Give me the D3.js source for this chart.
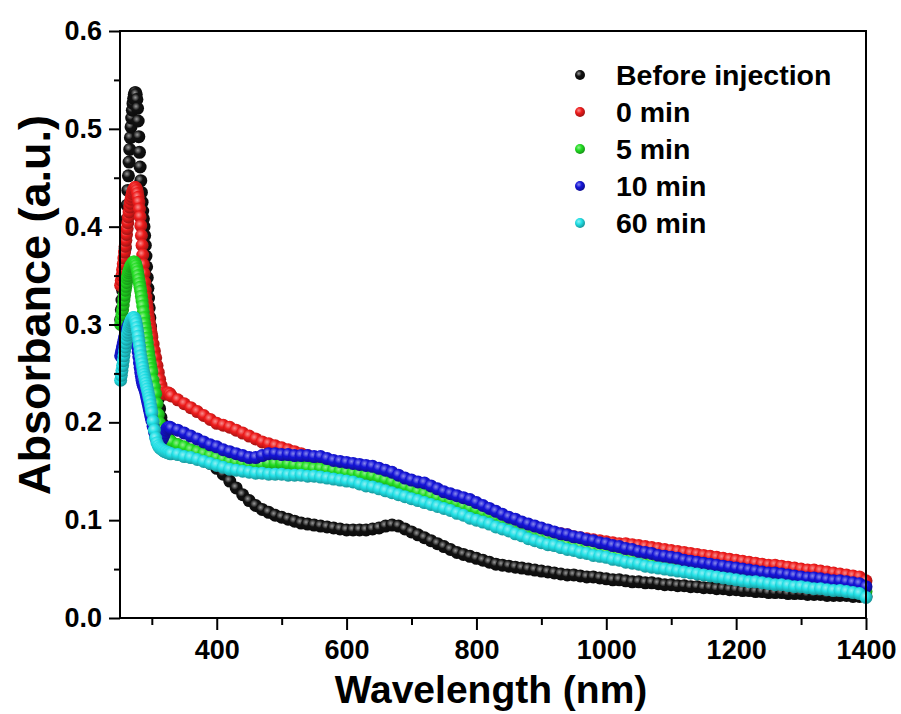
<!DOCTYPE html>
<html>
<head>
<meta charset="utf-8">
<script src="https://d3js.org/d3.v7.min.js"></script>
<style>
  body { margin: 0; background: #fff; }
  svg { font-family: "Liberation Sans", Arial, sans-serif; font-weight: bold; }
  .tick text { font-size: 27px; font-weight: bold; fill: #000; }
  .tick line { stroke: #000; stroke-width: 2px; }
  .legend text { font-size: 28.5px; }
</style>
</head>
<body>
<script>
var margin = {top: 31, right: 35, bottom: 96, left: 120},
    width = 901 - margin.left - margin.right,
    height = 714 - margin.top - margin.bottom;

// wavelength grid of the spectra (nm)
var wavelength = [
  252,253,254,255,256,257,258,259,260,261,262,263,264,265,266,267,268,269,270,271,
  272,273,274,275,276,277,278,279,280,281,282,283,284,285,286,287,288,289,290,291,
  292,293,294,295,296,297,298,299,300,
  302,304,306,308,310,312,314,316,318,320,322,324,326,328,330,
  340,350,360,370,380,390,400,410,420,430,440,450,460,470,480,490,500,510,520,530,
  540,550,560,570,580,590,600,610,620,630,640,650,660,670,680,690,700,710,720,730,
  740,750,760,770,780,790,800,810,820,830,840,850,860,870,880,890,900,910,920,930,
  940,950,960,970,980,990,1000,1010,1020,1030,1040,1050,1060,1070,1080,1090,1100,1110,1120,1130,
  1140,1150,1160,1170,1180,1190,1200,1210,1220,1230,1240,1250,1260,1270,1280,1290,1300,1310,1320,1330,
  1340,1350,1360,1370,1380,1390,1400
];

var beforeInjection = [
  0.305,0.315,0.325,0.335,0.345,0.355,0.365,0.378,0.392,0.407,
  0.422,0.437,0.452,0.466,0.479,0.491,0.502,0.511,0.519,0.526,
  0.531,0.535,0.537,0.537,0.535,0.530,0.521,0.508,0.492,0.476,
  0.461,0.447,0.435,0.425,0.416,0.408,0.400,0.391,0.381,0.370,
  0.359,0.348,0.337,0.327,0.317,0.307,0.298,0.289,0.281,
  0.267,0.254,0.243,0.233,0.224,0.214,0.205,0.199,0.194,0.190,0.187,0.185,0.183,0.181,0.180,
  0.177,0.174,0.170,0.166,0.162,0.158,0.153,0.147,0.140,0.133,
  0.126,0.120,0.115,0.111,0.108,0.105,0.103,0.101,0.099,0.097,
  0.096,0.095,0.094,0.093,0.092,0.091,0.090,0.090,0.090,0.090,
  0.091,0.092,0.094,0.095,0.094,0.091,0.088,0.085,0.082,0.079,
  0.076,0.073,0.070,0.067,0.065,0.063,0.061,0.059,0.057,0.055,
  0.054,0.053,0.052,0.051,0.050,0.049,0.048,0.047,0.046,0.045,
  0.044,0.044,0.043,0.042,0.042,0.041,0.040,0.039,0.039,0.038,
  0.037,0.037,0.036,0.036,0.035,0.034,0.034,0.033,0.033,0.032,
  0.032,0.031,0.031,0.030,0.030,0.029,0.029,0.028,0.028,0.027,
  0.027,0.026,0.026,0.026,0.025,0.025,0.025,0.024,0.024,0.024,
  0.023,0.023,0.023,0.023,0.022,0.022,0.022
];

var min0 = [
  0.340,0.345,0.350,0.356,0.362,0.368,0.374,0.380,0.386,0.392,
  0.398,0.404,0.410,0.415,0.420,0.424,0.428,0.431,0.434,0.436,
  0.438,0.439,0.440,0.440,0.439,0.437,0.434,0.430,0.425,0.418,
  0.410,0.401,0.391,0.381,0.371,0.361,0.352,0.343,0.335,0.328,
  0.322,0.317,0.312,0.307,0.303,0.299,0.295,0.291,0.287,
  0.280,0.273,0.266,0.258,0.251,0.244,0.238,0.233,0.230,0.229,0.229,0.230,0.230,0.229,0.227,
  0.223,0.219,0.215,0.211,0.207,0.203,0.199,0.197,0.195,0.192,
  0.189,0.186,0.183,0.180,0.178,0.176,0.174,0.172,0.170,0.168,
  0.166,0.164,0.162,0.160,0.159,0.158,0.157,0.156,0.155,0.154,
  0.153,0.151,0.149,0.147,0.144,0.141,0.139,0.137,0.135,0.132,
  0.129,0.127,0.125,0.123,0.121,0.119,0.116,0.113,0.110,0.107,
  0.104,0.101,0.099,0.096,0.094,0.092,0.090,0.089,0.087,0.086,
  0.085,0.083,0.082,0.081,0.080,0.079,0.078,0.077,0.076,0.076,
  0.075,0.074,0.073,0.072,0.071,0.070,0.069,0.068,0.067,0.066,
  0.065,0.064,0.063,0.062,0.061,0.060,0.059,0.058,0.057,0.056,
  0.055,0.054,0.054,0.053,0.052,0.051,0.050,0.049,0.049,0.048,
  0.047,0.046,0.045,0.044,0.043,0.042,0.038
];

var min5 = [
  0.300,0.305,0.310,0.315,0.320,0.325,0.330,0.335,0.339,0.343,
  0.347,0.350,0.353,0.355,0.357,0.359,0.360,0.361,0.362,0.363,
  0.364,0.364,0.363,0.362,0.360,0.357,0.354,0.350,0.346,0.342,
  0.338,0.334,0.329,0.324,0.319,0.313,0.307,0.301,0.296,0.291,
  0.286,0.281,0.276,0.272,0.267,0.263,0.259,0.255,0.251,
  0.243,0.236,0.229,0.219,0.208,0.199,0.192,0.187,0.184,0.183,0.182,0.182,0.182,0.181,0.180,
  0.177,0.175,0.172,0.170,0.168,0.166,0.164,0.162,0.160,0.159,
  0.158,0.157,0.157,0.157,0.158,0.158,0.158,0.157,0.156,0.155,
  0.154,0.153,0.153,0.152,0.151,0.150,0.149,0.148,0.147,0.146,
  0.145,0.143,0.141,0.139,0.137,0.134,0.132,0.129,0.127,0.125,
  0.123,0.121,0.119,0.117,0.114,0.112,0.110,0.107,0.105,0.102,
  0.099,0.097,0.094,0.092,0.089,0.087,0.084,0.082,0.080,0.078,
  0.076,0.075,0.073,0.072,0.070,0.069,0.068,0.066,0.065,0.063,
  0.062,0.061,0.059,0.058,0.057,0.056,0.055,0.054,0.053,0.052,
  0.051,0.050,0.049,0.048,0.047,0.046,0.045,0.044,0.043,0.043,
  0.042,0.041,0.040,0.040,0.039,0.038,0.038,0.037,0.036,0.036,
  0.035,0.034,0.034,0.033,0.032,0.031,0.027
];

var min10 = [
  0.268,0.271,0.274,0.277,0.280,0.283,0.286,0.289,0.291,0.293,
  0.295,0.297,0.299,0.300,0.301,0.302,0.303,0.303,0.303,0.302,
  0.300,0.298,0.295,0.291,0.287,0.282,0.277,0.272,0.267,0.261,
  0.256,0.251,0.247,0.243,0.240,0.238,0.236,0.234,0.232,0.229,
  0.226,0.223,0.220,0.217,0.214,0.211,0.208,0.205,0.202,
  0.196,0.190,0.185,0.181,0.180,0.180,0.181,0.183,0.186,0.189,0.192,0.194,0.195,0.195,0.194,
  0.192,0.189,0.186,0.183,0.180,0.177,0.175,0.172,0.170,0.168,
  0.166,0.164,0.164,0.166,0.168,0.168,0.167,0.167,0.166,0.166,
  0.166,0.165,0.165,0.163,0.161,0.160,0.159,0.158,0.157,0.156,
  0.155,0.153,0.151,0.149,0.146,0.143,0.141,0.139,0.138,0.135,
  0.132,0.129,0.127,0.125,0.123,0.121,0.118,0.115,0.112,0.109,
  0.106,0.103,0.101,0.098,0.096,0.094,0.092,0.090,0.088,0.086,
  0.085,0.083,0.082,0.080,0.079,0.077,0.076,0.074,0.073,0.071,
  0.070,0.068,0.067,0.066,0.064,0.063,0.062,0.061,0.059,0.058,
  0.057,0.056,0.055,0.054,0.053,0.052,0.051,0.050,0.049,0.048,
  0.047,0.046,0.046,0.045,0.044,0.043,0.042,0.041,0.041,0.040,
  0.039,0.038,0.038,0.037,0.036,0.035,0.032
];

var min60 = [
  0.243,0.248,0.253,0.258,0.263,0.268,0.273,0.277,0.281,0.285,
  0.289,0.292,0.295,0.298,0.300,0.302,0.304,0.305,0.306,0.307,
  0.307,0.307,0.306,0.304,0.301,0.297,0.293,0.288,0.283,0.278,
  0.273,0.268,0.264,0.260,0.256,0.252,0.249,0.246,0.243,0.240,
  0.237,0.234,0.231,0.228,0.225,0.222,0.218,0.214,0.210,
  0.201,0.192,0.184,0.179,0.176,0.174,0.173,0.172,0.171,0.170,0.170,0.169,0.169,0.168,0.168,
  0.167,0.165,0.164,0.162,0.160,0.158,0.156,0.154,0.152,0.151,
  0.150,0.149,0.148,0.148,0.147,0.147,0.147,0.146,0.146,0.146,
  0.145,0.145,0.144,0.143,0.142,0.141,0.140,0.139,0.137,0.135,
  0.134,0.132,0.130,0.128,0.126,0.124,0.122,0.120,0.118,0.116,
  0.114,0.112,0.110,0.107,0.105,0.102,0.100,0.098,0.096,0.093,
  0.091,0.089,0.086,0.084,0.081,0.079,0.077,0.075,0.074,0.072,
  0.070,0.069,0.067,0.066,0.064,0.063,0.062,0.060,0.059,0.057,
  0.056,0.055,0.053,0.052,0.051,0.050,0.049,0.048,0.047,0.046,
  0.045,0.044,0.043,0.042,0.041,0.040,0.039,0.038,0.037,0.037,
  0.036,0.035,0.034,0.034,0.033,0.032,0.032,0.031,0.030,0.030,
  0.029,0.028,0.028,0.027,0.026,0.025,0.021
];

var seriesNames = ["Before injection", "0 min", "5 min", "10 min", "60 min"],
    seriesValues = [beforeInjection, min0, min5, min10, min60],
    seriesColors = ["#111111", "#ee1c1c", "#22dd22", "#1515d8", "#22e0e6"];

var xMajor = [400, 600, 800, 1000, 1200, 1400],
    xMinor = [300, 500, 700, 900, 1100, 1300],
    yMajor = [0, 0.1, 0.2, 0.3, 0.4, 0.5, 0.6],
    yMinor = [0.05, 0.15, 0.25, 0.35, 0.45, 0.55];

var x = d3.scaleLinear().domain([251, 1400]).range([0, width]),
    y = d3.scaleLinear().domain([0, 0.6]).range([height, 0]);

var svg = d3.select("body").append("svg")
    .attr("width", width + margin.left + margin.right)
    .attr("height", height + margin.top + margin.bottom);

// shaded "ball" markers
var defs = svg.append("defs");
seriesColors.forEach(function(c, i) {
  var g = defs.append("radialGradient")
      .attr("id", "ball" + i)
      .attr("cx", "38%").attr("cy", "35%").attr("r", "65%");
  var light = i === 0 ? "#9a9a9a" : d3.interpolateRgb(c, "#ffffff")(0.5);
  g.append("stop").attr("offset", "0%").attr("stop-color", light);
  g.append("stop").attr("offset", "45%").attr("stop-color", c);
  g.append("stop").attr("offset", "100%").attr("stop-color", d3.color(c).darker(1.1));
});

var plot = svg.append("g")
    .attr("transform", "translate(" + margin.left + "," + margin.top + ")");

seriesValues.forEach(function(vals, i) {
  plot.append("g")
      .attr("class", "series")
    .selectAll("circle")
      .data(vals)
    .enter().append("circle")
      .attr("cx", function(d, j) { return x(wavelength[j]); })
      .attr("cy", function(d) { return y(d); })
      .attr("r", 6.5)
      .style("fill", "url(#ball" + i + ")");
});

// frame
plot.append("rect")
    .attr("width", width)
    .attr("height", height)
    .style("fill", "none")
    .style("stroke", "#000")
    .style("stroke-width", 2);

// x axis
plot.append("g")
    .attr("transform", "translate(0," + height + ")")
    .call(d3.axisBottom(x).tickValues(xMajor).tickSize(12).tickPadding(10).tickFormat(d3.format("d")));
plot.append("g")
    .attr("transform", "translate(0," + height + ")")
    .call(d3.axisBottom(x).tickValues(xMinor).tickSize(7).tickFormat(""));

// y axis
plot.append("g")
    .call(d3.axisLeft(y).tickValues(yMajor).tickSize(11).tickPadding(7).tickFormat(d3.format(".1f")));
plot.append("g")
    .call(d3.axisLeft(y).tickValues(yMinor).tickSize(6).tickFormat(""));

plot.selectAll(".domain").remove();

svg.append("text")
    .attr("x", margin.left + width / 2 - 2)
    .attr("y", 703)
    .attr("text-anchor", "middle")
    .style("font-size", "39px")
    .text("Wavelength (nm)");

svg.append("text")
    .attr("transform", "translate(50,305) rotate(-90)")
    .attr("text-anchor", "middle")
    .style("font-size", "45px")
    .text("Absorbance (a.u.)");

// legend
var legend = svg.selectAll(".legend")
    .data(seriesNames)
  .enter().append("g")
    .attr("class", "legend")
    .attr("transform", function(d, i) { return "translate(580," + (75 + i * 37) + ")"; });

legend.append("circle")
    .attr("r", 5)
    .style("fill", function(d, i) { return "url(#ball" + i + ")"; });

legend.append("text")
    .attr("x", 36)
    .attr("dy", ".35em")
    .text(String);
</script>
</body>
</html>
